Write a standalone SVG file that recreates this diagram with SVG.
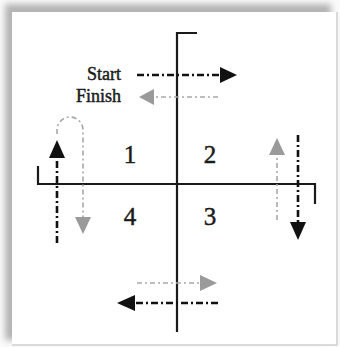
<svg xmlns="http://www.w3.org/2000/svg" width="340" height="347" viewBox="0 0 340 347">
  <style>
    .axis { fill: none; stroke: #1a1a1a; stroke-width: 2.2; }
    .blk { fill: none; stroke: #111; stroke-width: 2.6; stroke-dasharray: 7 3 2 3; }
    .gry { fill: none; stroke: #a8a8a8; stroke-width: 1.6; stroke-dasharray: 5 3 2 3; }
    .headb { fill: #111; }
    .headg { fill: #9a9a9a; }
    .lbl { font-family: "Liberation Serif", "Times New Roman", serif; fill: #1a1a1a; stroke: #1a1a1a; stroke-width: 0.45; }
  </style>
  <defs>
    <filter id="soft" x="-10%" y="-10%" width="120%" height="120%">
      <feGaussianBlur stdDeviation="3"/>
    </filter>
  </defs>

  <!-- page frame with a soft shadow to the upper left -->
  <rect x="0" y="0" width="340" height="347" fill="#fafafa"/>
  <rect x="5" y="4" width="326" height="336" fill="#b4b4b4" filter="url(#soft)"/>
  <rect x="12" y="12" width="325" height="333" fill="#ffffff"/>
  <polyline points="337,12 337,345 12,345" fill="none" stroke="#cfcfcf" stroke-width="1.5"/>

  <!-- axes -->
  <g id="axes">
    <polyline class="axis" points="197,33 177,33 177,332"/>
    <polyline class="axis" points="38,166 38,184 315,184 315,204"/>
  </g>

  <!-- quadrant numbers -->
  <g id="q1"><text class="lbl" x="130" y="163" font-size="25" text-anchor="middle">1</text></g>
  <g id="q2"><text class="lbl" x="210" y="163" font-size="25" text-anchor="middle">2</text></g>
  <g id="q3"><text class="lbl" x="210" y="225" font-size="25" text-anchor="middle">3</text></g>
  <g id="q4"><text class="lbl" x="130" y="225" font-size="25" text-anchor="middle">4</text></g>

  <!-- legend -->
  <g id="start"><text class="lbl" x="121" y="80" font-size="18" text-anchor="end">Start</text></g>
  <g id="finish"><text class="lbl" x="121" y="102" font-size="18" text-anchor="end">Finish</text></g>

  <g id="connectors">
    <!-- start arrow -->
    <line class="blk" x1="137" y1="75" x2="221" y2="75"/>
    <polygon class="headb" points="220,67 237,75 220,83"/>
    <!-- finish arrow -->
    <line class="gry" x1="218" y1="97" x2="152" y2="97"/>
    <polygon class="headg" points="154,89 139,97 154,105"/>

    <!-- left side: up, loop over, down -->
    <line class="blk" x1="57" y1="243" x2="57" y2="156"/>
    <polygon class="headb" points="49,158 57,140 65,158"/>
    <path class="gry" d="M57,134 L57,130 A13,13 0 0 1 83,130 L83,218"/>
    <polygon class="headg" points="75,217 83,234 91,217"/>

    <!-- right side -->
    <line class="gry" x1="277" y1="220" x2="277" y2="152"/>
    <polygon class="headg" points="269,155 277,138 285,155"/>
    <line class="blk" x1="298" y1="135" x2="298" y2="224"/>
    <polygon class="headb" points="290,222 298,240 306,222"/>

    <!-- bottom -->
    <line class="gry" x1="137" y1="283" x2="203" y2="283"/>
    <polygon class="headg" points="200,275 217,283 200,291"/>
    <line class="blk" x1="218" y1="303" x2="133" y2="303"/>
    <polygon class="headb" points="135,295 117,303 135,311"/>
  </g>
</svg>
